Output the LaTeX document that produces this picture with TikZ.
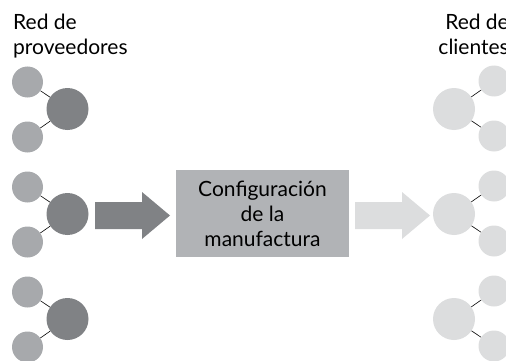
\documentclass[tikz,border=0pt]{standalone}
\usepackage{fontspec}
\setmainfont{Lato}

\definecolor{oscuro}{HTML}{808285}
\definecolor{medio}{HTML}{A7A9AC}
\definecolor{caja}{HTML}{B1B3B6}
\definecolor{claro}{HTML}{DCDDDE}

\begin{document}
\begin{tikzpicture}[x=1pt, y=-1pt,
    chico/.style={circle, inner sep=0pt, minimum size=31pt},
    grande/.style={circle, inner sep=0pt, minimum size=42pt},
    enlace/.style={black, line width=0.6pt},
    rotulo/.style={inner sep=0pt, font=\fontsize{21}{25}\selectfont}]
      \useasboundingbox (0,0) rectangle (506,361);
      \clip (0,0) rectangle (506,361);

      % Red de proveedores
      \node[rotulo, align=left, anchor=base west] (tprov) at (13,55) {Red de\\proveedores};
      \foreach \g/\y in {1/109,2/214,3/319} {
          \node[grande, fill=oscuro] (p\g) at (67.5,\y) {};
          \node[chico, fill=medio] (pa\g) at (27.5,\y-27) {};
          \node[chico, fill=medio] (pb\g) at (27.5,\y+28) {};
          \draw[enlace] (pa\g) -- (p\g);
          \draw[enlace] (pb\g) -- (p\g);
        }

      % Flechas
      \fill[oscuro] (95,202) -- (142,202) -- (142,192) -- (170,215.5)
        -- (142,239) -- (142,229) -- (95,229) -- cycle;
      \fill[claro] (355,202) -- (402,202) -- (402,192) -- (430,215.5)
        -- (402,239) -- (402,229) -- (355,229) -- cycle;

      % Configuracion
      \node[rotulo, fill=caja, align=center, minimum width=173pt,
        minimum height=87pt] (conf) at (262.5,213.5)
        {Configuración\\de la\\manufactura};

      % Red de clientes
      \node[rotulo, align=right, anchor=base east] (tcli) at (509,55) {Red de\\clientes};
      \foreach \g/\y in {1/109,2/214,3/319} {
          \node[grande, fill=claro] (c\g) at (454,\y) {};
          \node[chico, fill=claro] (ca\g) at (494,\y-28) {};
          \node[chico, fill=claro] (cb\g) at (494,\y+27) {};
          \draw[enlace] (c\g) -- (ca\g);
          \draw[enlace] (c\g) -- (cb\g);
        }
    \end{tikzpicture}
\end{document}
